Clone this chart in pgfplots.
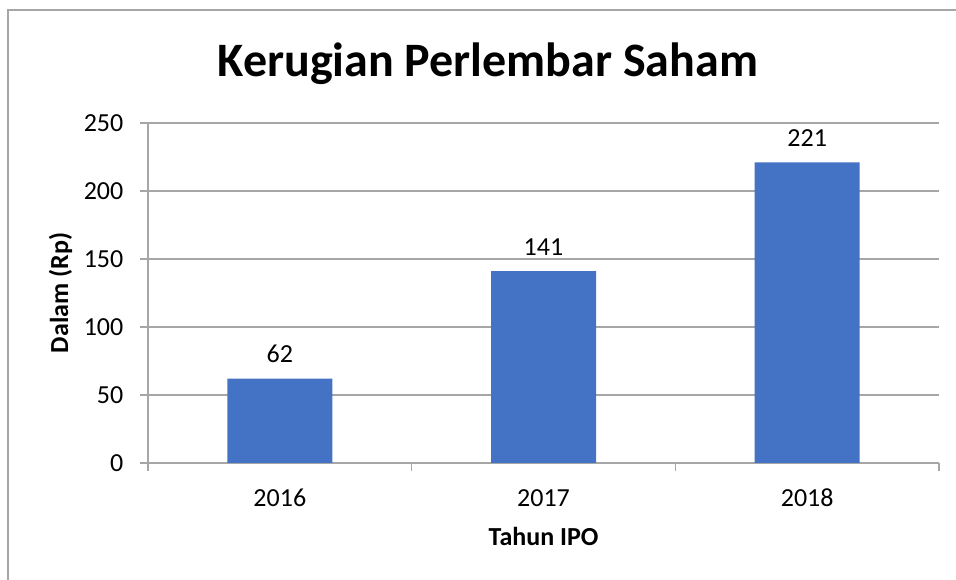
\documentclass[border=0pt]{standalone}
\usepackage{fontspec}
\setmainfont{Carlito}
\usepackage{pgfplots}
\pgfplotsset{compat=1.18}
\newlength{\px}\setlength{\px}{0.75pt}
\definecolor{barblue}{HTML}{4472C4}
\definecolor{gridgray}{HTML}{A6A6A6}
\definecolor{framegray}{HTML}{A6A6A6}
\begin{document}
\begin{tikzpicture}
\useasboundingbox (0,0) rectangle (956\px,580\px);
\draw[framegray, line width=2\px] (8\px,0) -- (8\px,570\px) -- (956\px,570\px);
\begin{axis}[
  at={(148\px,117\px)}, anchor=south west,
  scale only axis,
  width=791\px, height=340\px,
  xmin=-0.5, xmax=2.5,
  ymin=0, ymax=250,
  ytick={0,50,100,150,200,250},
  xtick={0,1,2},
  xticklabels={2016,2017,2018},
  minor xtick={-0.5,0.5,1.5,2.5},
  axis lines=left,
  axis line style={-, gridgray, line width=1.5\px},
  ymajorgrids,
  major grid style={gridgray, line width=1.5\px},
  tick align=outside,
  major tick length=8\px,
  minor tick length=8\px,
  every tick/.style={gridgray, line width=1.5\px},
  every major x tick/.append style={draw=none},
  /pgf/number format/assume math mode=true,
  tick label style={font=\fontsize{19.5}{23}\selectfont, text=black},
  xticklabel style={anchor=base, yshift=-36\px},
  yticklabel style={anchor=east, xshift=-12\px},
  xlabel={Tahun IPO},
  ylabel={Dalam (Rp)},
  label style={font=\bfseries\fontsize{19.5}{23}\selectfont},
  xlabel style={at={(axis description cs:0.5,-0.2441)}, anchor=base},
  ylabel style={at={(axis description cs:-0.1011,0.5)}, anchor=base, rotate=0},
  title={Kerugian Perlembar Saham},
  title style={at={(axis description cs:0.4298,1.112)}, anchor=base, font=\bfseries\fontsize{36}{42}\selectfont},
  ybar, bar width=105\px,
  nodes near coords,
  every node near coord/.append style={font=\fontsize{19.5}{23}\selectfont, anchor=base, yshift=16\px},
  clip=false,
]
\addplot[fill=barblue, draw=none] coordinates {(0,62) (1,141) (2,221)};
\end{axis}
\end{tikzpicture}
\end{document}
